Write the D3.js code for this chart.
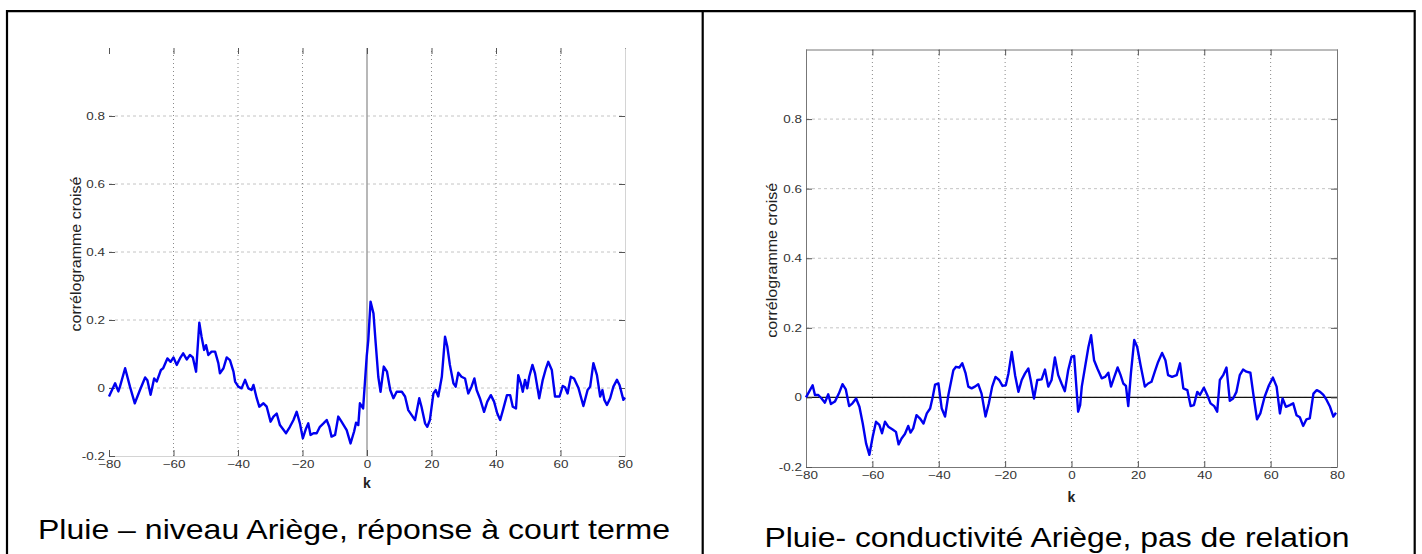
<!DOCTYPE html>
<html><head><meta charset="utf-8">
<script src="https://cdn.jsdelivr.net/npm/d3@7"></script>
<style>
html,body{margin:0;padding:0;background:#fff;}
svg{display:block;}
text{font-family:"Liberation Sans",Arial,sans-serif;}
</style></head>
<body>
<svg id="c" width="1422" height="554"></svg>
<script>
// ---------- data ----------
const xTicks = [-80, -60, -40, -20, 0, 20, 40, 60, 80];
const yTicks = [-0.2, 0, 0.2, 0.4, 0.6, 0.8];
const yTickLabels = ["-0.2", "0", "0.2", "0.4", "0.6", "0.8"];
const xLabel = "k";
const yLabel = "corrélogramme croisé";
const captionLeft = "Pluie – niveau Ariège, réponse à court terme";
const captionRight = "Pluie- conductivité Ariège, pas de relation";

const leftLags = [-80,-78.1,-77.1,-76.6,-75,-73.5,-72,-70.4,-68.8,-68.1,-67.1,-66,-65.2,-63.9,-63.2,-61.9,-60.9,-60,-59,-58,-57,-55.9,-54.9,-54,-53,-52,-51.3,-50.5,-49.9,-49.2,-48.2,-47.1,-46.1,-45.6,-44.5,-43.5,-42.5,-41.4,-40.9,-39.9,-38.9,-37.8,-36.8,-35.8,-35.2,-34.2,-33.4,-32.1,-31.1,-29.9,-29,-28,-27,-25.1,-23.9,-22.8,-21.8,-20.8,-19.9,-18.9,-18.2,-17.5,-16.6,-15.6,-14.6,-13.5,-12.5,-11.7,-11,-9.9,-8.9,-7.9,-6.3,-5.1,-4,-3.4,-2.7,-2.2,-1.2,-0.1,0.4,1.1,2,2.7,3.5,4.2,5.2,6.2,7.2,8.2,9.2,10.8,11.8,12.8,13.8,14.9,16.2,16.9,18,18.7,19.5,20.6,21.3,22.1,23.2,24.2,24.9,25.7,26.8,27.5,28.3,29.3,30.4,31.4,32.4,33.3,34,35,36.3,37.3,38.4,39.4,40.4,41.3,42.3,43.4,44.4,45.2,46.2,46.9,47.7,48.3,49,49.7,50.3,51.3,52.1,52.8,53.4,54.5,55.5,56.2,57.3,58.3,59.7,60.7,61.4,62.2,63.2,64.2,65.6,67.1,68.4,69.2,70.2,71.3,72.3,73,73.6,74.4,75.4,76.4,77.5,78.3,79.5,80];
const leftCorr = [-0.025,0.014,-0.01,0.004,0.058,0.004,-0.045,-0.006,0.031,0.023,-0.02,0.028,0.019,0.053,0.058,0.087,0.077,0.09,0.068,0.087,0.102,0.084,0.097,0.09,0.048,0.192,0.151,0.112,0.126,0.097,0.107,0.107,0.073,0.043,0.058,0.09,0.082,0.048,0.019,0.004,-0.001,0.024,-0.001,-0.006,0.009,-0.03,-0.055,-0.045,-0.055,-0.099,-0.084,-0.075,-0.109,-0.133,-0.114,-0.094,-0.07,-0.104,-0.148,-0.119,-0.104,-0.138,-0.133,-0.133,-0.114,-0.104,-0.094,-0.114,-0.143,-0.138,-0.084,-0.099,-0.124,-0.163,-0.128,-0.102,-0.109,-0.045,-0.06,0.092,0.141,0.254,0.22,0.131,0.033,-0.011,0.063,0.048,-0.006,-0.03,-0.011,-0.011,-0.025,-0.065,-0.079,-0.094,-0.03,-0.055,-0.104,-0.114,-0.094,-0.016,-0.006,-0.025,0.033,0.151,0.122,0.068,0.014,0.004,0.045,0.033,0.028,-0.016,0.004,0.028,-0.006,-0.03,-0.07,-0.04,-0.021,-0.04,-0.075,-0.094,-0.06,-0.021,-0.021,-0.055,-0.06,0.038,0.014,-0.011,0.024,-0.001,0.033,0.068,0.043,0.004,-0.03,0.024,0.058,0.077,0.053,-0.025,-0.025,0.006,0.002,-0.016,0.033,0.028,-0.001,-0.053,-0.006,0.004,0.073,0.038,-0.025,-0.006,-0.035,-0.05,-0.03,0.004,0.024,0.009,-0.035,-0.028];

const rightLags = [-80,-78,-77.3,-76.3,-75.3,-74.3,-73.3,-72.5,-71.3,-70.1,-69,-68,-67,-66,-64.9,-63.9,-62.9,-61.9,-60.9,-59.9,-58.9,-57.9,-57.1,-56.2,-55.2,-53.9,-52.9,-52.1,-51.2,-50.2,-49.2,-48.5,-47.7,-46.7,-45.7,-44.6,-43.6,-42.6,-41.8,-41.1,-40.1,-39.1,-38.1,-37.1,-35.6,-34.8,-33.8,-32.9,-31.9,-31.1,-30.1,-29.1,-28.1,-27.1,-25.9,-24.9,-23.9,-22.9,-21.8,-20.8,-19.8,-19,-18,-17,-16,-15,-14,-13,-12.3,-11.3,-10.3,-9,-8,-7,-6,-5,-4,-3,-2,-1,0,0.8,2,2.6,3.1,4.1,5.1,5.9,6.8,7.8,9.1,10.1,11.1,11.9,12.9,13.9,14.8,15.6,16.4,17.1,17.9,18.9,19.8,20.8,22.1,23.1,24.1,25.1,26.1,27.3,28.3,29.1,30.3,31.7,32.7,33.7,34.9,35.9,36.9,37.9,38.7,39.9,40.9,41.9,43,43.9,44.7,45.7,46.7,47.7,48.7,49.7,50.7,51.7,52.7,53.9,54.9,55.9,56.9,58.2,59.5,60.7,61.8,62.8,63.6,64.6,65.8,66.8,67.8,68.8,69.8,70.8,71.8,72.9,73.9,74.9,75.9,76.9,77.9,78.9,79.7];
const rightCorr = [0,0.035,0.007,0.007,-0.003,-0.015,0.009,-0.019,-0.012,0.011,0.038,0.023,-0.025,-0.017,-0.003,-0.027,-0.075,-0.132,-0.165,-0.113,-0.07,-0.079,-0.103,-0.07,-0.084,-0.092,-0.099,-0.135,-0.118,-0.105,-0.082,-0.101,-0.089,-0.051,-0.06,-0.075,-0.046,-0.032,0.002,0.037,0.04,-0.032,-0.055,0.007,0.078,0.088,0.086,0.098,0.069,0.031,0.026,0.031,0.038,0.011,-0.055,-0.017,0.031,0.059,0.05,0.033,0.035,0.069,0.131,0.064,0.016,0.05,0.069,0.083,0.05,-0.003,0.05,0.052,0.08,0.031,0.05,0.115,0.064,0.04,0.018,0.078,0.117,0.119,-0.041,-0.022,0.031,0.088,0.145,0.179,0.107,0.083,0.055,0.059,0.071,0.031,0.059,0.086,0.064,0.04,0.033,-0.025,0.069,0.165,0.145,0.093,0.031,0.04,0.045,0.074,0.102,0.128,0.107,0.064,0.059,0.064,0.098,0.026,0.021,-0.025,-0.022,0.016,0.007,0.028,0.007,-0.017,-0.025,-0.041,0.05,0.064,0.086,-0.01,-0.003,0.016,0.064,0.08,0.074,0.071,0.002,-0.063,-0.046,0.002,0.035,0.057,0.031,-0.046,-0.003,-0.027,-0.022,-0.017,-0.051,-0.057,-0.082,-0.063,-0.06,0.011,0.021,0.016,0.007,-0.008,-0.027,-0.055,-0.044];

// ---------- drawing ----------
const svg = d3.select("#c");
const TICK_STRETCH = 1.28;

function stretch(sel, factor) {
  sel.each(function () {
    const len = this.getComputedTextLength();
    d3.select(this).attr("textLength", len * factor).attr("lengthAdjust", "spacingAndGlyphs");
  });
}

// outer frame and divider
svg.append("path")
  .attr("d", "M7,560 V11.2 H1414.7 V560 M702.7,11.2 V560")
  .attr("fill", "none").attr("stroke", "#000").attr("stroke-width", 2.2);

function panel(o) {
  const x = d3.scaleLinear().domain([-80, 80]).range([o.x0, o.x1]);
  const y = d3.scaleLinear().domain([-0.2, 1.0]).range([o.y0, o.y1]);
  const g = svg.append("g");

  // grid
  g.append("g").selectAll("line").data(yTicks.filter(v => v > -0.2)).join("line")
    .attr("x1", o.x0).attr("x2", o.x1).attr("y1", d => y(d)).attr("y2", d => y(d))
    .attr("stroke", "#c4c4c4").attr("stroke-width", 1).attr("stroke-dasharray", "3,3");
  g.append("g").selectAll("line").data(xTicks.filter(v => v > -80 && v < 80 && !(o.zeroV && v === 0))).join("line")
    .attr("y1", o.y0).attr("y2", o.y1).attr("x1", d => x(d)).attr("x2", d => x(d))
    .attr("stroke", "#8a8a8a").attr("stroke-width", 1).attr("stroke-dasharray", "1,3");

  if (o.zeroV) {
    g.append("line").attr("x1", x(0)).attr("x2", x(0)).attr("y1", o.y0).attr("y2", o.y1)
      .attr("stroke", "#9a9a9a").attr("stroke-width", 1.4);
  }
  if (o.zeroH) {
    g.append("line").attr("x1", o.x0).attr("x2", o.x1).attr("y1", y(0)).attr("y2", y(0))
      .attr("stroke", "#111").attr("stroke-width", 1.3);
  }

  // axes
  const ax = g.append("g").attr("transform", `translate(0,${o.y0})`)
    .call(d3.axisBottom(x).tickValues(xTicks).tickSizeInner(-6).tickSizeOuter(0).tickPadding(o.xpad).tickFormat(d3.format("d")));
  const axTop = g.append("g").attr("transform", `translate(0,${o.y1})`)
    .call(d3.axisTop(x).tickValues(xTicks).tickSizeInner(-6).tickSizeOuter(0).tickFormat(""));
  const ay = g.append("g").attr("transform", `translate(${o.x0},0)`)
    .call(d3.axisLeft(y).tickValues(yTicks).tickSizeInner(-6).tickSizeOuter(0).tickPadding(4)
      .tickFormat((d, i) => yTickLabels[i]));
  const ayR = g.append("g").attr("transform", `translate(${o.x1},0)`)
    .call(d3.axisRight(y).tickValues(yTicks).tickSizeInner(-6).tickSizeOuter(0).tickFormat(""));

  [ax, axTop, ay, ayR].forEach(a => {
    a.selectAll(".tick line").attr("stroke", "#555").attr("stroke-width", 1);
    a.selectAll("text").attr("font-size", 10.5).attr("fill", "#333")
      .attr("font-family", '"Liberation Sans",Arial,sans-serif');
    a.select(".domain").attr("stroke", o.boxColor).attr("stroke-width", 1);
  });
  if (!o.fullBox) {
    axTop.select(".domain").remove();
    ay.select(".domain").remove();
  }
  stretch(ax.selectAll("text"), TICK_STRETCH);
  stretch(ay.selectAll("text"), TICK_STRETCH);

  // series
  const pts = o.lags.map((k, i) => [k, o.vals[i]]);
  g.append("path").datum(pts)
    .attr("d", d3.line().x(d => x(d[0])).y(d => y(d[1])))
    .attr("fill", "none").attr("stroke", "#0000f0").attr("stroke-width", 2.4)
    .attr("stroke-linejoin", "round");

  // labels
  g.append("text").attr("x", (o.x0 + o.x1) / 2).attr("y", o.kY)
    .attr("text-anchor", "middle").attr("font-size", 14).attr("font-weight", "bold")
    .attr("fill", "#222").text(xLabel);
  g.append("text")
    .attr("transform", `translate(${o.ylX},${(o.y0 + o.y1) / 2 + o.ylDy}) rotate(-90)`)
    .attr("text-anchor", "middle").attr("font-size", 14).attr("fill", "#222").text(yLabel)
    .attr("textLength", 155).attr("lengthAdjust", "spacingAndGlyphs");

  g.append("text").attr("x", o.capX).attr("y", o.capY)
    .attr("text-anchor", "middle").attr("font-size", 28).attr("fill", "#000")
    .text(o.caption).attr("textLength", o.capW).attr("lengthAdjust", "spacingAndGlyphs");
}

panel({x0: 109, x1: 625, y0: 456, y1: 48, lags: leftLags, vals: leftCorr,
  zeroV: true, zeroH: false, fullBox: false, boxColor: "#d4d4d4", xpad: 5,
  kY: 487.5, ylX: 81, ylDy: 2, capX: 354, capY: 539, capW: 632, caption: captionLeft});
panel({x0: 806, x1: 1337, y0: 467, y1: 49.5, lags: rightLags, vals: rightCorr,
  zeroV: false, zeroH: true, fullBox: true, boxColor: "#777", xpad: 5,
  kY: 502, ylX: 777, ylDy: 2, capX: 1057, capY: 547, capW: 585, caption: captionRight});
</script>
</body></html>
